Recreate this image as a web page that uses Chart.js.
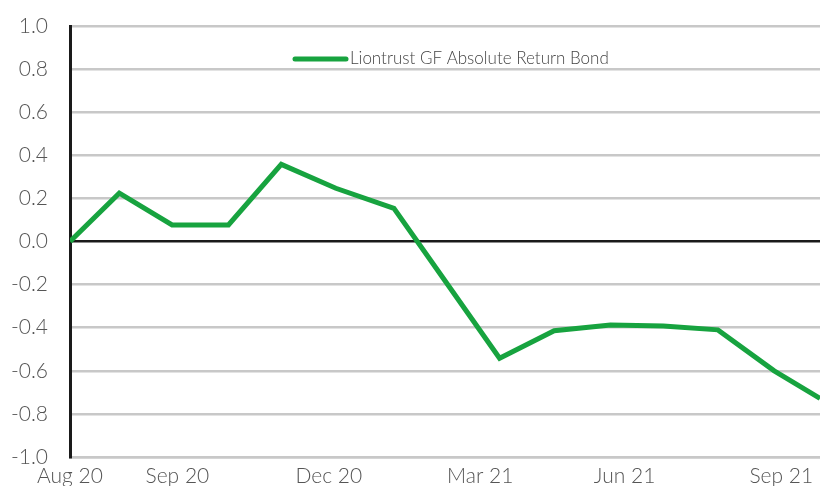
<!DOCTYPE html>
<html lang="en">
<head>
  <meta charset="UTF-8" />
  <title>Liontrust GF Absolute Return Bond</title>
  <style>
    html, body { margin: 0; padding: 0; background: #fff; overflow: hidden; }
    .wrap { width: 820px; height: 500px; }
  </style>
</head>
<body>
  <div class="wrap"><canvas id="chart" width="820" height="500"></canvas></div>

  <script src="https://cdn.jsdelivr.net/npm/chart.js"></script>
  <script>
    // days since start of the series
    const pointDays = [0, 28, 58, 90, 120, 151, 184, 214, 244, 275, 307, 337, 368, 400, 426];
    const returns = [0, 0.224, 0.077, 0.077, 0.358, 0.247, 0.154, -0.194, -0.542, -0.414, -0.387, -0.392, -0.41, -0.6, -0.728];
    const tickDays = [0, 61, 147, 233, 315, 404];
    const tickLabels = ['Aug 20', 'Sep 20', 'Dec 20', 'Mar 21', 'Jun 21', 'Sep 21'];
    const seriesName = 'Liontrust GF Absolute Return Bond';

    const green = '#17a33f';
    const font = "Lato, 'DejaVu Sans', sans-serif";

    // legend drawn inside the plot, like the original
    const insideLegend = {
      id: 'insideLegend',
      afterDatasetsDraw(chart) {
        const ctx = chart.ctx;
        const ds = chart.data.datasets[0];
        ctx.save();
        ctx.strokeStyle = ds.borderColor;
        ctx.lineWidth = 5;
        ctx.lineCap = 'round';
        ctx.beginPath();
        ctx.moveTo(295, 59);
        ctx.lineTo(346, 59);
        ctx.stroke();
        ctx.fillStyle = '#444';
        ctx.font = '300 17px ' + font;
        ctx.textBaseline = 'middle';
        ctx.fillText(ds.label, 350, 59);
        ctx.restore();
      }
    };

    new Chart(document.getElementById('chart'), {
      type: 'line',
      data: {
        datasets: [{
          label: seriesName,
          data: pointDays.map((d, i) => ({ x: d, y: returns[i] })),
          borderColor: green,
          borderWidth: 5,
          pointRadius: 0,
          tension: 0,
          fill: false
        }]
      },
      options: {
        responsive: false,
        animation: false,
        layout: { padding: { top: 26, right: 0, left: 0, bottom: 0 } },
        plugins: { legend: { display: false }, tooltip: { enabled: false } },
        scales: {
          x: {
            type: 'linear',
            min: 0,
            max: 426,
            afterBuildTicks: s => { s.ticks = tickDays.map(v => ({ value: v })); },
            afterFit: s => { s.height = 43; s.paddingLeft = 0; s.paddingRight = 0; },
            grid: { display: false, drawTicks: false },
            border: { display: true, color: '#c8c8c8', width: 2.5 },
            ticks: {
              autoSkip: false,
              maxRotation: 0,
              padding: 7,
              color: '#555',
              font: { family: font, size: 21, weight: '300' },
              callback: v => tickLabels[tickDays.indexOf(v)] ?? ''
            }
          },
          y: {
            min: -1,
            max: 1,
            afterFit: s => { s.width = 70; s.paddingTop = 0; s.paddingBottom = 0; },
            grid: {
              drawTicks: false,
              lineWidth: 2.5,
              color: c => c.tick && c.tick.value === 0 ? '#1a1a1a' : '#c8c8c8'
            },
            border: { display: true, color: '#1a1a1a', width: 3 },
            ticks: {
              stepSize: 0.2,
              padding: 22,
              color: '#555',
              font: { family: font, size: 21, weight: '300' },
              callback: v => v.toFixed(1)
            }
          }
        }
      },
      plugins: [insideLegend]
    });
  </script>
</body>
</html>
